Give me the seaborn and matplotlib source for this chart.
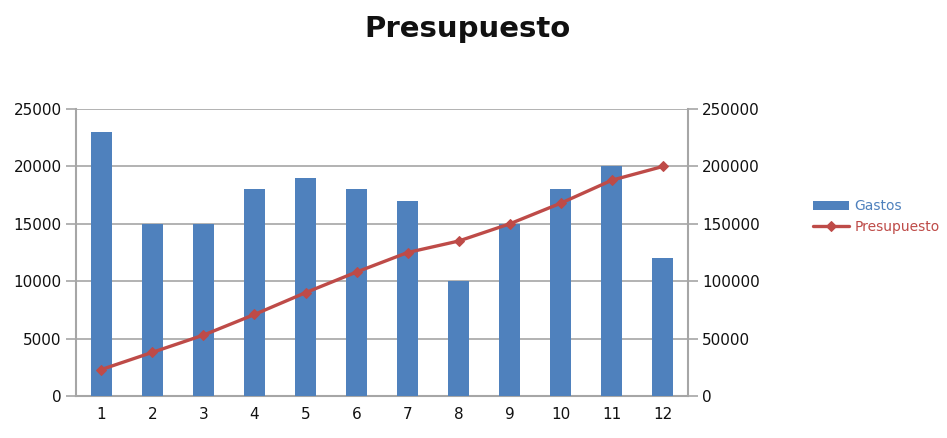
import matplotlib
matplotlib.use("Agg")
import matplotlib.pyplot as plt
import seaborn as sns
import pandas as pd
from matplotlib.ticker import MultipleLocator, FixedLocator

months = ["1", "2", "3", "4", "5", "6", "7", "8", "9", "10", "11", "12"]
gastos = [23000, 15000, 15000, 18000, 19000, 18000, 17000, 10000, 15000, 18000, 20000, 12000]
presupuesto = [23000, 38000, 53000, 71000, 90000, 108000, 125000, 135000, 150000, 168000, 188000, 200000]

bar_color = "#4F81BD"
line_color = "#BE4B48"
grid_color = "#A6A6A6"

sns.set_theme(style="white")
plt.rcParams["font.family"] = ["DejaVu Sans"]

df = pd.DataFrame({"mes": months, "Gastos": gastos, "Presupuesto": presupuesto})

fig = plt.figure(figsize=(9.47, 4.38), dpi=100)
ax = fig.add_axes([0.080, 0.096, 0.647, 0.655])

sns.barplot(data=df, x="mes", y="Gastos", color=bar_color, width=0.41,
            saturation=1, linewidth=0, edgecolor="none", ax=ax, label="Gastos", zorder=3)
ax.set_ylim(0, 25000)
ax.set_xlim(-0.5, len(months) - 0.5)
ax.yaxis.set_major_locator(MultipleLocator(5000))
ax.grid(axis="y", color=grid_color, linewidth=1.2, zorder=0)
ax.set_axisbelow(True)
ax.set_xlabel("")
ax.set_ylabel("")

ax2 = ax.twinx()
sns.lineplot(data=df, x="mes", y="Presupuesto", color=line_color, linewidth=2.4,
             marker="D", markersize=5.5, markeredgecolor=line_color,
             ax=ax2, label="Presupuesto", sort=False)
ax2.set_ylim(0, 250000)
ax2.yaxis.set_major_locator(MultipleLocator(50000))
ax2.set_ylabel("")
ax2.set_xlabel("")
if ax2.legend_:
    ax2.legend_.remove()

for a in (ax, ax2):
    for s in a.spines.values():
        s.set_visible(False)
    a.tick_params(axis="y", labelsize=11, length=7, width=1.2, color=grid_color,
                  direction="out", pad=3, labelcolor="#111111")

for a, side in ((ax, "left"), (ax, "bottom"), (ax2, "right")):
    a.spines[side].set_visible(True)
    a.spines[side].set_color(grid_color)
    a.spines[side].set_linewidth(1.5)

# category labels centred, tick marks on the category boundaries
ax.tick_params(axis="x", which="major", length=0, labelsize=11, pad=8, labelcolor="#111111")
ax.xaxis.set_minor_locator(FixedLocator([i - 0.5 for i in range(len(months) + 1)]))
ax.tick_params(axis="x", which="minor", length=7, width=1.2, color=grid_color, direction="out")
ax2.tick_params(axis="x", length=0)

if ax.legend_:
    ax.legend_.remove()

h1, l1 = ax.get_legend_handles_labels()
h2, l2 = ax2.get_legend_handles_labels()
leg = fig.legend(h1 + h2, l1 + l2, loc="center left", bbox_to_anchor=(0.845, 0.505),
                 frameon=False, fontsize=10, handlelength=2.6, handletextpad=0.4,
                 labelspacing=0.5)
for txt, col in zip(leg.get_texts(), [bar_color, line_color]):
    txt.set_color(col)

fig.suptitle("Presupuesto", x=0.494, y=0.965, fontsize=21, fontweight="bold", color="#111111")

fig.savefig("out.png", dpi=100)
